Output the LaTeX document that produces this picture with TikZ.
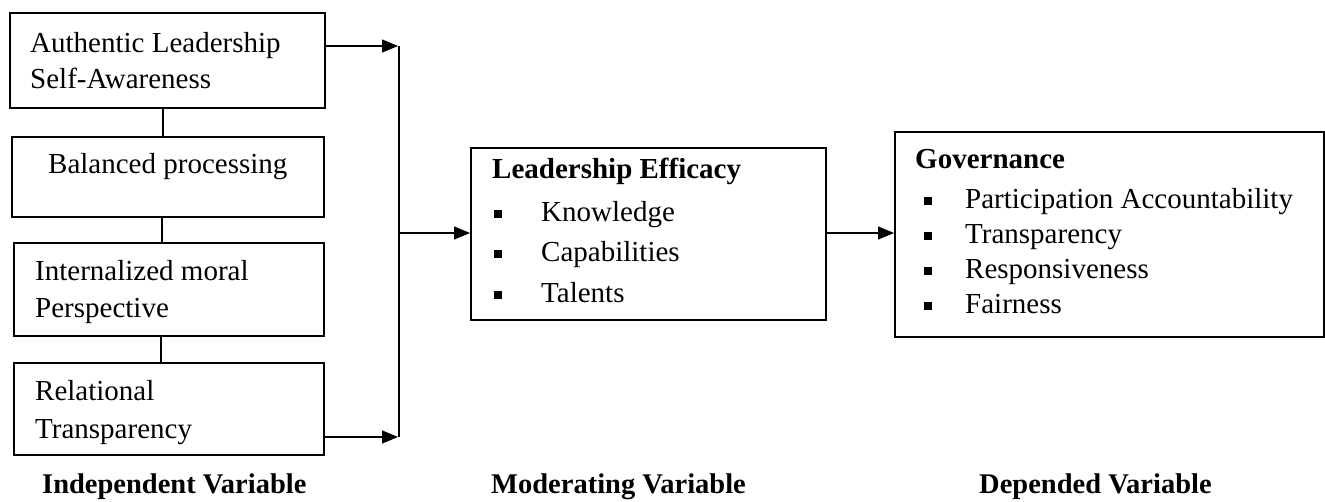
\documentclass[tikz,border=0pt]{standalone}
\usepackage{fontspec}
\setmainfont{Liberation Serif}
\usetikzlibrary{arrows.meta}
\tikzset{
  box/.style={draw, line width=2pt, anchor=north west, inner sep=0pt},
  txt/.style={anchor=base west, inner sep=0pt, font=\fontsize{29}{35}\selectfont},
  ttl/.style={anchor=base west, inner sep=0pt, font=\fontsize{29}{35}\selectfont\bfseries},
  lbl/.style={anchor=base west, inner sep=0pt, font=\fontsize{28.5}{34}\selectfont\bfseries},
  bul/.style={fill=black, minimum size=8pt, inner sep=0pt},
  link/.style={line width=1.2pt},
  arr/.style={line width=1.2pt, -{Triangle[length=16pt,width=13pt]}}
}
\begin{document}
\begin{tikzpicture}[x=1pt,y=-1pt]
\useasboundingbox (0,0) rectangle (1325,501);
% left boxes
\node[box, minimum width=315pt, minimum height=95pt] (b1) at (9,12) {};
\node[box, minimum width=312pt, minimum height=80pt] (b2) at (11,136) {};
\node[box, minimum width=310pt, minimum height=93pt] (b3) at (13,242) {};
\node[box, minimum width=310pt, minimum height=92pt] (b4) at (13,362) {};
\node[txt] (t1a) at (30,52) {Authentic Leadership};
\node[txt] (t1b) at (30,88) {Self-Awareness};
\node[txt] (t2a) at (48,173) {Balanced processing};
\node[txt] (t3a) at (35,280) {Internalized moral};
\node[txt] (t3b) at (35,317) {Perspective};
\node[txt] (t4a) at (35,400) {Relational};
\node[txt] (t4b) at (35,438) {Transparency};
% links between left boxes
\coordinate (x1) at (163,0);
\coordinate (x2) at (162,0);
\coordinate (x3) at (161,0);
\draw[link] (b1.south -| x1) -- (b2.north -| x1);
\draw[link] (b2.south -| x2) -- (b3.north -| x2);
\draw[link] (b3.south -| x3) -- (b4.north -| x3);
% bracket
\coordinate (vt) at (399,46);
\coordinate (vb) at (399,437);
\coordinate (vm) at (399,233);
\coordinate (at) at (398,46);
\coordinate (ab) at (398,437);
\draw[arr] (b1.east |- at) -- (at);
\draw[arr] (b4.east |- ab) -- (ab);
\draw[link] (vt) -- (vb);
% middle box
\node[box, minimum width=355pt, minimum height=172pt] (mid) at (470,147) {};
\node[ttl] (mt) at (492,178) {Leadership Efficacy};
\node[bul] (mb1) at (498,214) {};
\node[bul] (mb2) at (498,254) {};
\node[bul] (mb3) at (498,295) {};
\node[txt] (m1) at (541,221) {Knowledge};
\node[txt] (m2) at (541,261) {Capabilities};
\node[txt] (m3) at (541,302) {Talents};
\draw[arr] (vm) -- (vm -| mid.west);
% right box
\node[box, minimum width=429pt, minimum height=205pt] (gov) at (894,131) {};
\node[ttl] (gt) at (915,168) {Governance};
\node[bul] (gb1) at (928,201) {};
\node[bul] (gb2) at (928,236) {};
\node[bul] (gb3) at (928,271) {};
\node[bul] (gb4) at (928,306) {};
\node[txt] (g1) at (965,208) {Participation Accountability};
\node[txt] (g2) at (965,243) {Transparency};
\node[txt] (g3) at (965,278) {Responsiveness};
\node[txt] (g4) at (965,313) {Fairness};
\draw[arr] (mid.east |- vm) -- (gov.west |- vm);
% labels
\node[lbl] (l1) at (42,493) {Independent Variable};
\node[lbl] (l2) at (491,493) {Moderating Variable};
\node[lbl] (l3) at (979,493) {Depended Variable};
\end{tikzpicture}
\end{document}
